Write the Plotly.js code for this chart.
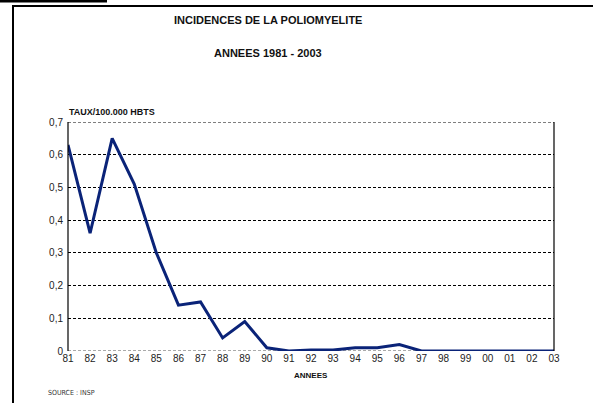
<!DOCTYPE html>
<html>
<head>
<meta charset="utf-8">
<script src="https://cdn.plot.ly/plotly-3.0.1.min.js"></script>
<style>html,body{margin:0;padding:0;background:#fff;}#chart{width:593px;height:403px;}</style>
</head>
<body>
<div id="chart"></div>
<script>
const years = ['81','82','83','84','85','86','87','88','89','90','91','92','93','94','95','96','97','98','99','00','01','02','03'];
const rates = [0.63,0.36,0.65,0.51,0.30,0.14,0.15,0.04,0.09,0.01,0.0,0.003,0.003,0.01,0.01,0.02,0.0,0.0,0.0,0.0,0.0,0.0,0.0];
const yTickVals = [0,0.1,0.2,0.3,0.4,0.5,0.6,0.7];
const yTickText = ['0','0,1','0,2','0,3','0,4','0,5','0,6','0,7'];

const W = 593, H = 403;
const M = {l: 68, r: 39, t: 122, b: 52};
const pw = W - M.l - M.r, ph = H - M.t - M.b;
const px = v => (v - M.l) / pw;
const py = v => (H - M.b - v) / ph;

const xIdx = years.map((_, i) => i);

const shapes = [];
// top gridline at 0.7 and bottom dashed line
shapes.push({type:'line', xref:'paper', yref:'y', x0:0, x1:1, y0:0.7, y1:0.7, line:{color:'#000', width:1, dash:'3px,2px'}});
shapes.push({type:'line', xref:'paper', yref:'y', x0:0, x1:1, y0:0, y1:0, line:{color:'#555', width:1, dash:'3px,2px'}, layer:'below'});
// plot area left / right borders
shapes.push({type:'line', xref:'paper', yref:'paper', x0:0, x1:0, y0:0, y1:1, line:{color:'#000', width:1.2}});
shapes.push({type:'line', xref:'paper', yref:'paper', x0:1, x1:1, y0:0, y1:1, line:{color:'#000', width:1.2}});
// frame
shapes.push({type:'line', xref:'paper', yref:'paper', x0:px(12), x1:px(593), y0:py(6), y1:py(6), line:{color:'#000', width:2}});
shapes.push({type:'line', xref:'paper', yref:'paper', x0:px(13), x1:px(13), y0:py(5), y1:py(403), line:{color:'#000', width:2}});
// top-left underline fragment
shapes.push({type:'line', xref:'paper', yref:'paper', x0:px(0), x1:px(107), y0:py(1), y1:py(1), line:{color:'#000', width:3}});

const annotations = [
  {text:'<b>INCIDENCES DE LA POLIOMYELITE</b>', xref:'paper', yref:'paper', x:px(268), y:py(20), xanchor:'center', yanchor:'middle', showarrow:false, font:{family:'Liberation Sans, Arial', size:11, color:'#111'}},
  {text:'<b>ANNEES 1981 - 2003</b>', xref:'paper', yref:'paper', x:px(268), y:py(53), xanchor:'center', yanchor:'middle', showarrow:false, font:{family:'Liberation Sans, Arial', size:11, color:'#111'}},
  {text:'<b>TAUX/100.000 HBTS</b>', xref:'paper', yref:'paper', x:px(67), y:py(112), xanchor:'left', yanchor:'middle', showarrow:false, font:{family:'Liberation Sans, Arial', size:9, color:'#111'}},
  {text:'<b>ANNEES</b>', xref:'paper', yref:'paper', x:px(292), y:py(375), xanchor:'left', yanchor:'middle', showarrow:false, font:{family:'Liberation Sans, Arial', size:8, color:'#111'}},
  {text:'SOURCE : INSP', xref:'paper', yref:'paper', x:px(46), y:py(393), xanchor:'left', yanchor:'middle', showarrow:false, font:{family:'DejaVu Sans Condensed, Liberation Sans', size:7, color:'#333'}}
];

const data = [{
  x: xIdx, y: rates, type:'scatter', mode:'lines',
  line:{color:'#0a2378', width:3},
  hoverinfo:'skip', cliponaxis:false
}];

const layout = {
  width: W, height: H,
  margin: M,
  paper_bgcolor:'#fff', plot_bgcolor:'#fff',
  showlegend:false,
  xaxis:{
    range:[0,22], tickvals:xIdx, ticktext:years, showgrid:false, zeroline:false,
    showline:false, ticks:'', tickfont:{family:'Liberation Sans, Arial', size:10, color:'#222'}, fixedrange:true
  },
  yaxis:{
    range:[0,0.7], tickvals:yTickVals, ticktext:yTickText, showgrid:true, gridcolor:'#000', griddash:'3px,2px', gridwidth:1,
    zeroline:false, showline:false, ticks:'', ticklabelstandoff:4,
    tickfont:{family:'Liberation Sans, Arial', size:10, color:'#222'}, fixedrange:true
  },
  shapes: shapes,
  annotations: annotations
};

Plotly.newPlot('chart', data, layout, {displayModeBar:false, staticPlot:true});
</script>
</body>
</html>
